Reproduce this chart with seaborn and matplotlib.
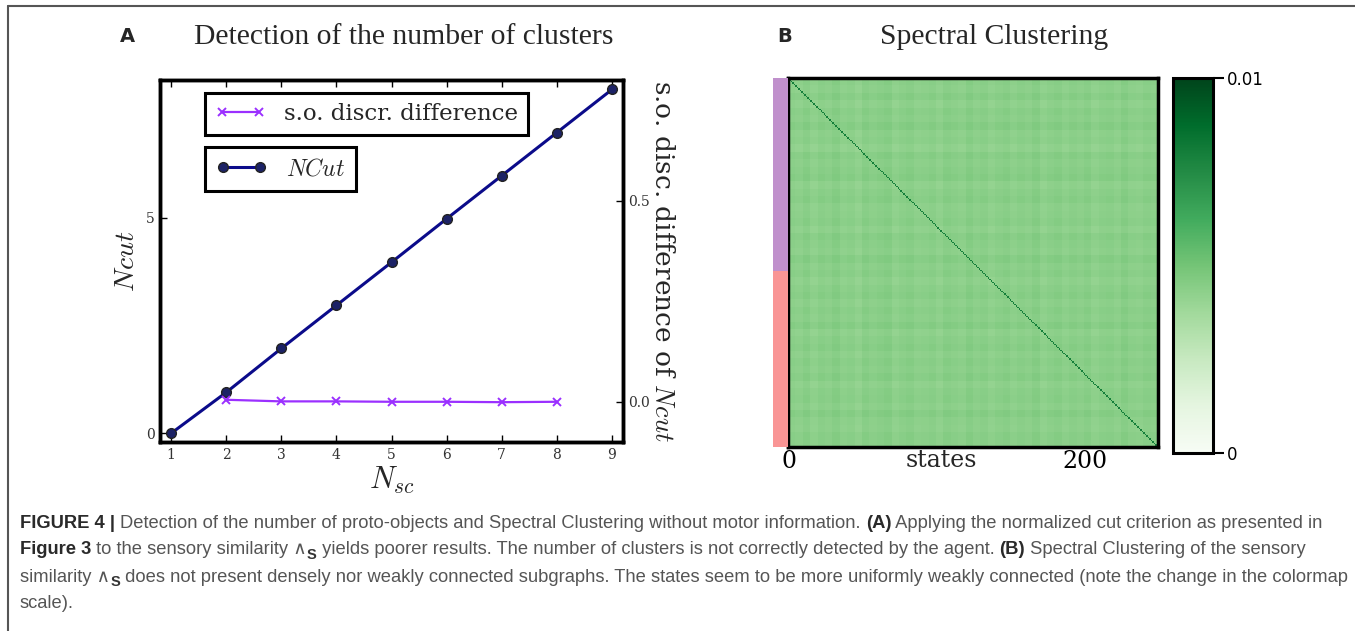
import numpy as np
import pandas as pd
import matplotlib
matplotlib.use("Agg")
import matplotlib.pyplot as plt
import seaborn as sns
from matplotlib.colors import ListedColormap
from matplotlib.lines import Line2D

# ---------------- data ----------------
n_sc = [1, 2, 3, 4, 5, 6, 7, 8, 9]
ncut_values = [0.0, 0.95, 1.97, 2.97, 3.97, 4.98, 5.98, 6.98, 7.98]
so_n_sc = [2, 3, 4, 5, 6, 7, 8]
so_diff_values = [0.005, 0.001, 0.001, 0.0, 0.0, -0.001, 0.0]

n_states = 250
cluster_sizes = [131, 119]           # purple, pink strip
cluster_colors = ["#c090cc", "#f99595"]
# relative similarity level of each group of 5 states (read approx. from stripes)
block_levels = [1.00, 0.98, 1.02, 0.97, 1.01, 0.99, 1.03, 0.98, 1.00, 0.96,
                1.02, 0.99, 1.01, 1.03, 0.97, 1.00, 1.02, 0.98, 0.99, 1.01,
                0.97, 1.02, 1.00, 0.98, 1.03, 0.99, 1.01, 0.97, 1.00, 1.02,
                0.98, 1.01, 0.99, 1.03, 0.97, 1.00, 1.02, 0.98, 1.01, 0.99,
                1.02, 0.97, 1.00, 1.01, 0.98, 1.03, 0.99, 0.98, 1.01, 1.00]
base_similarity = 0.0044
diag_similarity = 0.0080
heat_ticks = [0, 200]

# ---------------- figure ----------------
sns.set_theme(style="white")
plt.rcParams["mathtext.fontset"] = "cm"
plt.rcParams["font.family"] = ["DejaVu Serif"]

W, H = 1355, 631
fig = plt.figure(figsize=(W / 100, H / 100), dpi=100)
fig.patch.set_facecolor("white")

def fx(px):
    return px / W

def fy(py):
    return 1 - py / H

# ------------- panel A -------------
axA = fig.add_axes([fx(160), fy(442), fx(623) - fx(160), fy(80) - fy(442)])
axA2 = axA.twinx()

dfA = pd.DataFrame({"Nsc": n_sc, "NCut": ncut_values})
dfS = pd.DataFrame({"Nsc": so_n_sc, "so": so_diff_values})

sns.lineplot(data=dfA, x="Nsc", y="NCut", ax=axA, color="#0b0b8a", lw=2.2,
             marker="o", markersize=7, markerfacecolor="#1c2266",
             markeredgecolor="#222222", markeredgewidth=1.0, label="$NCut$",
             legend=False)
sns.lineplot(data=dfS, x="Nsc", y="so", ax=axA2, color="#9b30ff", lw=1.6,
             marker="x", markersize=6, markeredgewidth=1.4,
             markeredgecolor="#9b30ff",
             label="s.o. discr. difference", legend=False)

axA.set_xlim(0.8, 9.2)
axA.set_ylim(-0.2, 8.2)
axA2.set_ylim(-0.1, 0.8)
axA.set_xticks(n_sc)
axA.set_yticks([0, 5])
axA2.set_yticks([0.0, 0.5])
axA2.set_yticklabels(["0.0", "0.5"])

for ax in (axA, axA2):
    for s in ax.spines.values():
        s.set_linewidth(2.5)
        s.set_color("black")
axA.tick_params(axis="both", direction="in", length=5, width=1, labelsize=10,
                colors="black", top=True, bottom=True, left=True, right=False, pad=4)
axA2.tick_params(axis="y", direction="in", length=5, width=1, labelsize=10,
                 colors="black", right=True, pad=4)
for lab in axA.get_xticklabels() + axA.get_yticklabels() + axA2.get_yticklabels():
    lab.set_color("#333333")

axA.set_xlabel("$N_{sc}$", fontsize=22, labelpad=2)
axA.set_ylabel("$Ncut$", fontsize=20, labelpad=4)
axA2.set_ylabel("s.o. disc. difference of $Ncut$", fontsize=19, rotation=270,
                labelpad=18, family="DejaVu Serif")

h2, l2 = axA2.get_legend_handles_labels()
h1, l1 = axA.get_legend_handles_labels()
leg1 = axA2.legend(h2, l2, loc="upper left", bbox_to_anchor=(0.097, 0.965),
                   frameon=True, fancybox=False, numpoints=2,
                   handlelength=2.2, borderpad=0.45, handletextpad=0.8,
                   borderaxespad=0, prop={"family": "DejaVu Serif", "size": 16.5})
leg2 = axA2.legend(h1, l1, loc="upper left", bbox_to_anchor=(0.097, 0.815),
                   frameon=True, fancybox=False, numpoints=2,
                   handlelength=2.2, borderpad=0.45, handletextpad=0.8,
                   borderaxespad=0, prop={"size": 17})
axA2.add_artist(leg1)
for lg in (leg1, leg2):
    lg.get_frame().set_edgecolor("black")
    lg.get_frame().set_linewidth(2.2)
    lg.get_frame().set_facecolor("white")
    lg.get_frame().set_alpha(1)

fig.text(fx(127), fy(37), "A", fontsize=14, fontweight="bold",
         family="DejaVu Sans", ha="center", va="center")
fig.text(fx(404), fy(37), "Detection of the number of clusters", fontsize=21.3,
         family="Liberation Serif", ha="center", va="center")

# ------------- panel B -------------
levels = np.repeat(np.array(block_levels), n_states // len(block_levels))
sim = base_similarity * np.outer(levels, levels)
np.fill_diagonal(sim, diag_similarity)

axB = fig.add_axes([fx(788), fy(447), fx(1158) - fx(788), fy(78) - fy(447)])
cax = fig.add_axes([fx(1173), fy(453), fx(1213) - fx(1173), fy(78) - fy(453)])
sns.heatmap(sim, ax=axB, cmap="Greens", vmin=0, vmax=0.01, cbar=True,
            cbar_ax=cax, xticklabels=False, yticklabels=False,
            rasterized=True)
for s in axB.spines.values():
    s.set_visible(True)
    s.set_linewidth(2.5)
    s.set_color("black")
axB.set_xticks([t + 0.5 for t in heat_ticks])
axB.set_xticklabels([str(t) for t in heat_ticks], fontsize=17,
                    family="DejaVu Serif")
axB.set_yticks([])
axB.tick_params(axis="x", direction="in", length=4, width=1, top=True,
                bottom=True, pad=2, colors="black")
axB.set_xlabel("states", fontsize=17, family="DejaVu Serif")
axB.xaxis.set_label_coords(0.415, -0.005)

cbar = axB.collections[0].colorbar
cbar.set_ticks([0, 0.01])
cbar.set_ticklabels(["0", "0.01"])
cbar.ax.tick_params(length=8, width=1.5, labelsize=12, colors="black", pad=2)
for lab in cbar.ax.get_yticklabels():
    lab.set_family("DejaVu Sans")
cbar.outline.set_linewidth(2.2)
cbar.outline.set_edgecolor("black")

# cluster strip
labels = np.repeat(np.arange(len(cluster_sizes)), cluster_sizes).reshape(-1, 1)
axS = fig.add_axes([fx(773), fy(447), fx(788) - fx(773), fy(78) - fy(447)])
sns.heatmap(labels, ax=axS, cmap=ListedColormap(cluster_colors), cbar=False,
            xticklabels=False, yticklabels=False, rasterized=True)
axS.set_axis_off()

fig.text(fx(785), fy(37), "B", fontsize=14, fontweight="bold",
         family="DejaVu Sans", ha="center", va="center")
fig.text(fx(994), fy(37), "Spectral Clustering", fontsize=21.3,
         family="Liberation Serif", ha="center", va="center")

# ------------- figure frame -------------
fig.add_artist(Line2D([fx(8), fx(8)], [0, fy(6)], color="#555555", lw=1.5))
fig.add_artist(Line2D([fx(8), 1], [fy(6), fy(6)], color="#555555", lw=1.5))

# ------------- caption -------------
caption_lines = [
    [("FIGURE 4 | ", "bold"),
     ("Detection of the number of proto-objects and Spectral Clustering without motor information. ", "normal"),
     ("(A)", "bold"),
     (" Applying the normalized cut criterion as presented in", "normal")],
    [("Figure 3", "bold"),
     (" to the sensory similarity \u2227", "normal"), ("S", "sub"),
     (" yields poorer results. The number of clusters is not correctly detected by the agent. ", "normal"),
     ("(B)", "bold"),
     (" Spectral Clustering of the sensory", "normal")],
    [("similarity \u2227", "normal"), ("S", "sub"),
     (" does not present densely nor weakly connected subgraphs. The states seem to be more uniformly weakly connected (note the change in the colormap", "normal")],
    [("scale).", "normal")],
]
line_y = [523, 550, 577, 604]
cap_size = 13.2
renderer = fig.canvas.get_renderer()
for segs, yy in zip(caption_lines, line_y):
    x = 20
    for text, kind in segs:
        if kind == "sub":
            t = fig.text(fx(x), fy(yy + 5), text, fontsize=cap_size * 0.8,
                         fontweight="bold", family=["Liberation Sans", "DejaVu Sans"],
                         color="#333333", va="center", ha="left")
        else:
            t = fig.text(fx(x), fy(yy), text, fontsize=cap_size,
                         fontweight=kind, family=["Liberation Sans", "DejaVu Sans"],
                         color="#2a2a2a" if kind == "bold" else "#555555",
                         va="center", ha="left")
        x += t.get_window_extent(renderer).width

fig.savefig("out.png", dpi=100, facecolor="white")
